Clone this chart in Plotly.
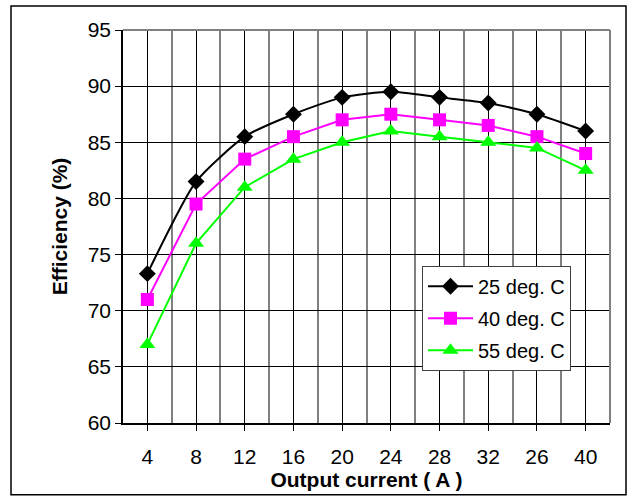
import plotly.graph_objects as go

categories = ["4", "8", "12", "16", "20", "24", "28", "32", "26", "40"]
eff_25 = [73.3, 81.5, 85.5, 87.5, 89.0, 89.5, 89.0, 88.5, 87.5, 86.0]
eff_40 = [71.0, 79.5, 83.5, 85.5, 87.0, 87.5, 87.0, 86.5, 85.5, 84.0]
eff_55 = [67.0, 76.0, 81.0, 83.5, 85.0, 86.0, 85.5, 85.0, 84.5, 82.5]
y_ticks = [60, 65, 70, 75, 80, 85, 90, 95]

idx = list(range(len(categories)))
W, H = 631, 498
L, R, T, B = 123, 610, 30, 425

fig = go.Figure()
fig.add_trace(go.Scatter(x=idx, y=eff_25, name="25 deg. C", mode="lines+markers", legendgroup="a",
                         line=dict(color="black", width=2, shape="spline", smoothing=0.6),
                         marker=dict(symbol="diamond", size=13, color="black")))
fig.add_trace(go.Scatter(x=idx, y=eff_40, name="40 deg. C", mode="lines+markers", legendgroup="b",
                         line=dict(color="#FF00FF", width=2),
                         marker=dict(symbol="square", size=13, color="#FF00FF")))
fig.add_trace(go.Scatter(x=idx, y=eff_55, name="55 deg. C", mode="lines+markers", legendgroup="c",
                         line=dict(color="#00FF00", width=2),
                         marker=dict(symbol="triangle-up", size=14, color="#00FF00")))

def px2paper_x(px):
    return (px - L) / (R - L)

def px2paper_y(py):
    return (B - py) / (B - T)

font = "Liberation Sans, Arial, sans-serif"
fig.update_layout(
    width=W, height=H,
    margin=dict(l=L, r=W - R, t=T, b=H - B),
    paper_bgcolor="white", plot_bgcolor="white",
    font=dict(family=font, size=20, color="black"),
    showlegend=True,
    legend=dict(x=px2paper_x(422), y=px2paper_y(267), xanchor="left", yanchor="top",
                bordercolor="#404040", borderwidth=1, bgcolor="white",
                traceorder="grouped", tracegroupgap=3,
                font=dict(size=20, family=font), itemwidth=45),
    xaxis=dict(range=[-0.5, 9.5], tickmode="array", tickvals=idx, ticktext=categories,
               showgrid=True, gridcolor="black", gridwidth=1,
               ticks="outside", ticklen=6, tickcolor="black", ticklabelstandoff=8,
               showline=True, linecolor="black", linewidth=1.5,
               minor=dict(tickmode="array", tickvals=[i - 0.5 for i in range(11)],
                          showgrid=True, gridcolor="#808080", gridwidth=1.5, ticks=""),
               title=dict(text="<b>Output current ( A )</b>", font=dict(size=21), standoff=3),
               tickfont=dict(size=21), zeroline=False, mirror=False),
    yaxis=dict(range=[60, 95], tickmode="array", tickvals=y_ticks,
               showgrid=True, gridcolor="black", gridwidth=1,
               ticks="outside", ticklen=6, tickcolor="black",
               showline=True, linecolor="black", linewidth=1.5,
               title=dict(text="<b>Efficiency (%)</b>", font=dict(size=21), standoff=14),
               tickfont=dict(size=21), zeroline=False),
)

# plot area top/right border (gray)
fig.add_shape(type="line", xref="paper", yref="paper", x0=0, x1=1, y0=1, y1=1,
              line=dict(color="#808080", width=2))
fig.add_shape(type="line", xref="paper", yref="paper", x0=1, x1=1, y0=0, y1=1,
              line=dict(color="#808080", width=2))
# outer chart frame
fig.add_shape(type="rect", xref="paper", yref="paper",
              x0=px2paper_x(11), x1=px2paper_x(626), y0=px2paper_y(497), y1=px2paper_y(6),
              line=dict(color="black", width=1.5), layer="below")

fig.write_html("out.html", config={"displayModeBar": False},
               post_script="document.body.style.margin='0';document.body.style.overflow='hidden';")
